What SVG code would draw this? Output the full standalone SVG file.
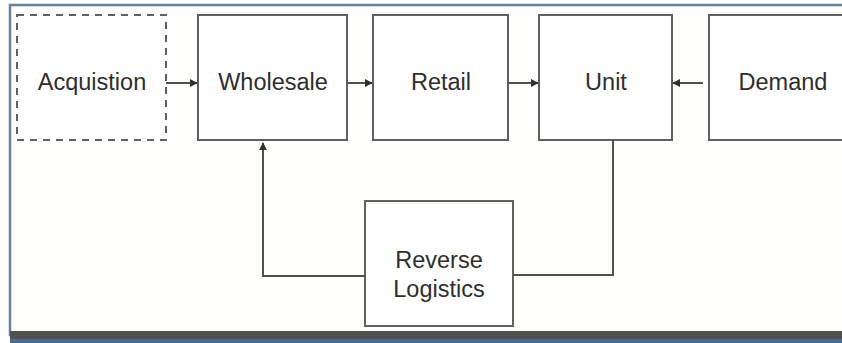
<svg xmlns="http://www.w3.org/2000/svg" width="842" height="343" viewBox="0 0 842 343">
  <defs>
    <style>
      .box { fill: #ffffff; stroke: #606060; stroke-width: 2; }
      .dashed { stroke-dasharray: 7 6; }
      .label { font-family: "Liberation Sans", Arial, sans-serif; font-size: 23.5px; fill: #2e2e2e; text-anchor: middle; }
      .link { fill: none; stroke: #505050; stroke-width: 2; }
      .arrow { marker-end: url(#head); }
    </style>
    <marker id="head" viewBox="0 0 10 10" refX="9" refY="5" markerWidth="4" markerHeight="4" markerUnits="strokeWidth" orient="auto">
      <path d="M0,0 L10,5 L0,10 z" fill="#303030"/>
    </marker>
  </defs>

  <!-- frame -->
  <rect x="0" y="0" width="842" height="343" fill="#ffffff"/>
  <rect x="10" y="5" width="840" height="330" fill="#fefefc" stroke="#6d8196" stroke-width="2.5"/>
  <rect x="10" y="331" width="832" height="8" fill="#505050"/>
  <rect x="10" y="339" width="832" height="4" fill="#4c6a8e"/>

  <g id="acquisition">
    <rect class="box dashed" x="17" y="15" width="149" height="125"/>
    <text class="label" x="92" y="90">Acquistion</text>
  </g>
  <g id="wholesale">
    <rect class="box" x="198" y="15" width="149" height="125"/>
    <text class="label" x="273" y="90">Wholesale</text>
  </g>
  <g id="retail">
    <rect class="box" x="373" y="15" width="135" height="125"/>
    <text class="label" x="441" y="90">Retail</text>
  </g>
  <g id="unit">
    <rect class="box" x="539" y="15" width="133" height="125"/>
    <text class="label" x="606" y="90">Unit</text>
  </g>
  <g id="demand">
    <rect class="box" x="709" y="15" width="145" height="125"/>
    <text class="label" x="783" y="90">Demand</text>
  </g>
  <g id="reverse-logistics">
    <rect class="box" x="365" y="201" width="148" height="125"/>
    <text class="label" x="439" y="268">Reverse</text>
    <text class="label" x="439" y="297">Logistics</text>
  </g>

  <g id="connectors">
    <line class="link arrow" x1="166" y1="83" x2="197" y2="83"/>
    <line class="link arrow" x1="347" y1="83" x2="372" y2="83"/>
    <line class="link arrow" x1="508" y1="83" x2="538" y2="83"/>
    <line class="link arrow" x1="703" y1="83" x2="673" y2="83"/>
    <polyline class="link" points="613,140 613,275 513,275"/>
    <polyline class="link arrow" points="365,276 263,276 263,143"/>
  </g>
</svg>
